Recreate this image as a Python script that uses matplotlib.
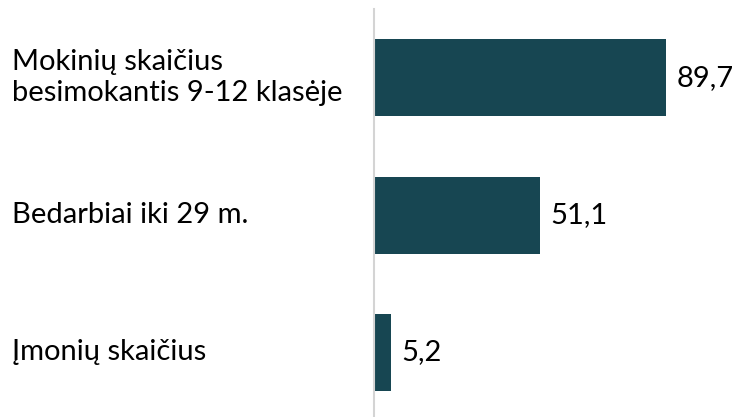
import matplotlib
matplotlib.use('Agg')
import matplotlib.pyplot as plt
import matplotlib.transforms as mtransforms

plt.rcParams['font.family'] = ['Lato', 'DejaVu Sans']

categories = ['Mokinių skaičius\nbesimokantis 9-12 klasėje',
              'Bedarbiai iki 29 m.',
              'Įmonių skaičius']
values = [89.7, 51.1, 5.2]
value_labels = ['89,7', '51,1', '5,2']

W, H = 738, 417
fig = plt.figure(figsize=(W / 100, H / 100), dpi=100)
# axes: left edge at the grey line, top near y=9px, down to the bottom edge
ax = fig.add_axes([374 / W, 0.0, 325.5 / W, (H - 9) / H])

y = list(range(len(categories)))
ax.barh(y, values, height=0.56, color='#174652', zorder=2)
ax.set_xlim(0, 100)
ax.set_ylim(2.47, -0.5)

for s in ['top', 'right', 'bottom']:
    ax.spines[s].set_visible(False)
ax.spines['left'].set_color('#d4d4d4')
ax.spines['left'].set_linewidth(1.5)
ax.set_xticks([])
ax.set_yticks([])

# category labels left-aligned near figure edge
trans = mtransforms.blended_transform_factory(fig.transFigure, ax.transData)
for yi, lab in zip(y, categories):
    ax.text(12 / W, yi, lab, transform=trans, ha='left', va='center',
            fontsize=21, color='black', linespacing=1.25)

for yi, v, lab in zip(y, values, value_labels):
    ax.annotate(lab, (v, yi), xytext=(7.5, 0), textcoords='offset points',
                ha='left', va='center', fontsize=21, color='black')

fig.savefig('out.png', dpi=100)
